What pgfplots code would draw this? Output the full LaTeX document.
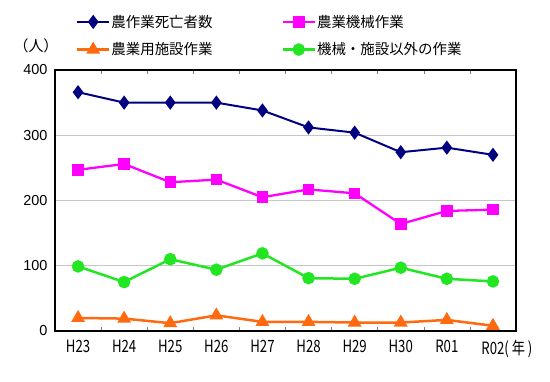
\documentclass[border=0pt]{standalone}
\usepackage{pgfplots}
\pgfplotsset{compat=1.18}
\usepackage{fontspec}
\setmainfont{Noto Sans CJK JP}
\newfontfamily\arial{Liberation Sans}
\newfontfamily\narrowfont[FakeStretch=0.78]{Noto Sans CJK JP}
\definecolor{cnavy}{HTML}{000080}
\definecolor{cmag}{HTML}{FF00FF}
\definecolor{corange}{HTML}{FF6A10}
\definecolor{cgreen}{HTML}{22E622}
\begin{document}
\begin{tikzpicture}[x=1bp,y=1bp]
\path[use as bounding box] (0,0) rectangle (550,381);
\begin{axis}[
  at={(55bp,50bp)}, anchor=south west,
  width=461bp, height=261bp, scale only axis,
  xmin=-0.5, xmax=9.5, ymin=0, ymax=400,
  xtick={0,...,9},
  xticklabels={H23,H24,H25,H26,H27,H28,H29,H30,R01,{R02\rlap{(\,年\,)}}},
  minor xtick={0.5,1.5,...,8.5},
  major x tick style={draw=none},
  minor x tick style={gray, line width=0.6bp},
  minor tick length=4bp,
  tick align=inside,
  ytick={0,100,200,300,400},
  y tick style={draw=none},
  ymajorgrids, grid style={gray!45, line width=0.6bp},
  axis line style={black, line width=1.1bp},
  /pgf/number format/assume math mode=true,
  yticklabel style={font=\arial\fontsize{14.5}{15}\selectfont, xshift=-4bp},
  xticklabel style={font=\narrowfont\fontsize{17}{18}\selectfont, yshift=-5.5bp},
  legend columns=2,
  legend style={at={(0.045,1.215)}, anchor=north west, draw=none, fill=none,
    font=\fontsize{14.5}{15}\selectfont, row sep=12bp, inner sep=0pt,
    nodes={inner sep=1bp},
    /tikz/every even column/.append style={column sep=68bp}},
  legend cell align=left,
  legend image code/.code={\draw[mark repeat=2,mark phase=2,#1] plot coordinates {(0bp,0bp) (16bp,0bp) (32bp,0bp)};},
  clip=false,
]
\addplot[cnavy, line width=2bp, mark=diamond*, mark size=5.5bp, mark options={solid}]
  coordinates {(0,366) (1,350) (2,350) (3,350) (4,338) (5,312) (6,304) (7,274) (8,281) (9,270)};
\addlegendentry{農作業死亡者数}
\addplot[cmag, line width=2.3bp, mark=square*, mark size=4.6bp]
  coordinates {(0,247) (1,256) (2,228) (3,232) (4,205) (5,217) (6,211) (7,164) (8,184) (9,186)};
\addlegendentry{農業機械作業}
\addplot[corange, line width=2.5bp, mark=triangle*, mark size=5.5bp]
  coordinates {(0,20) (1,19) (2,12) (3,24) (4,14) (5,14) (6,13) (7,13) (8,17) (9,8)};
\addlegendentry{農業用施設作業}
\addplot[cgreen, line width=2.5bp, mark=*, mark size=5bp]
  coordinates {(0,99) (1,75) (2,110) (3,94) (4,119) (5,81) (6,80) (7,97) (8,80) (9,76)};
\addlegendentry{機械・施設以外の作業}
\end{axis}
\node[font=\fontsize{15}{15}\selectfont] at (36bp,335bp) {（人）};
\end{tikzpicture}
\end{document}
